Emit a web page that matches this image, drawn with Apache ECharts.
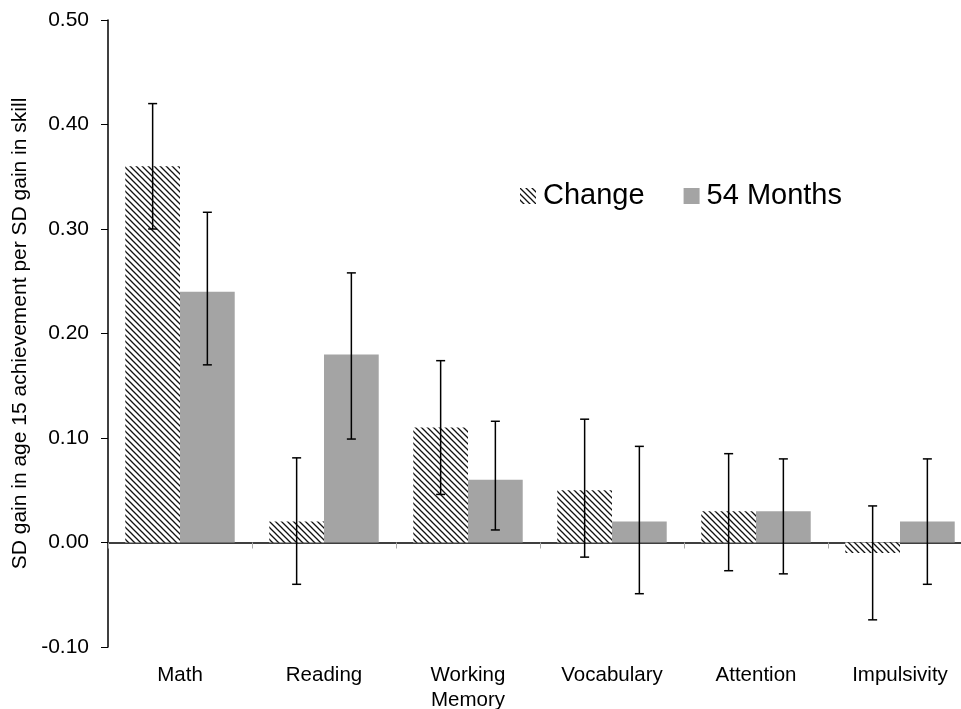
<!DOCTYPE html>
<html>
<head>
<meta charset="utf-8">
<script src="https://cdn.jsdelivr.net/npm/echarts@6/dist/echarts.min.js"></script>
<style>
  html, body { margin: 0; padding: 0; background: #fff; }
  #chart { width: 961px; height: 709px; }
</style>
</head>
<body>
<div id="chart"></div>
<script>
  // categories and values
  const categories = ['Math', 'Reading', 'Working\nMemory', 'Vocabulary', 'Attention', 'Impulsivity'];
  const changeValues = [0.36, 0.02, 0.11, 0.05, 0.03, -0.01];
  const changeLow = [0.30, -0.04, 0.046, -0.014, -0.027, -0.074];
  const changeHigh = [0.42, 0.081, 0.174, 0.118, 0.085, 0.035];
  const monthsValues = [0.24, 0.18, 0.06, 0.02, 0.03, 0.02];
  const monthsLow = [0.17, 0.099, 0.012, -0.049, -0.030, -0.040];
  const monthsHigh = [0.316, 0.258, 0.116, 0.092, 0.080, 0.080];

  const font = 'Arial, "Liberation Sans", sans-serif';
  const catGap = 0.24;

  // diagonal hatch tile
  function hatch() {
    const s = 6;
    const c = document.createElement('canvas');
    c.width = s; c.height = s;
    const ctx = c.getContext('2d');
    ctx.fillStyle = '#fff';
    ctx.fillRect(0, 0, s, s);
    ctx.strokeStyle = '#111';
    ctx.lineWidth = 1.3;
    ctx.beginPath();
    ctx.moveTo(-1, -1); ctx.lineTo(s + 1, s + 1);
    ctx.moveTo(-1, s - 1); ctx.lineTo(1, s + 1);
    ctx.moveTo(s - 1, -1); ctx.lineTo(s + 1, 1);
    ctx.stroke();
    return c;
  }

  function errorSeries(low, high, side) {
    return {
      type: 'custom',
      xAxisIndex: 0,
      silent: true,
      z: 5,
      data: low.map((l, i) => [i, l, high[i]]),
      renderItem: function (params, api) {
        const band = api.size([1, 0])[0];
        const off = side * band * (1 - catGap) / 4;
        const p1 = api.coord([api.value(0), api.value(1)]);
        const p2 = api.coord([api.value(0), api.value(2)]);
        const x = p1[0] + off;
        const cap = 4.5;
        const style = { stroke: '#000', lineWidth: 1.5 };
        return {
          type: 'group',
          children: [
            { type: 'line', shape: { x1: x, y1: p1[1], x2: x, y2: p2[1] }, style: style },
            { type: 'line', shape: { x1: x - cap, y1: p1[1], x2: x + cap, y2: p1[1] }, style: style },
            { type: 'line', shape: { x1: x - cap, y1: p2[1], x2: x + cap, y2: p2[1] }, style: style }
          ]
        };
      }
    };
  }

  const myChart = echarts.init(document.getElementById('chart'));
  myChart.setOption({
    animation: false,
    backgroundColor: '#fff',
    textStyle: { fontFamily: font, color: '#000' },
    grid: { left: 108, top: 20, width: 864, height: 627, outerBoundsMode: 'none' },
    legend: {
      left: 515,
      top: 175,
      icon: 'rect',
      itemWidth: 16,
      itemHeight: 16,
      itemGap: 39,
      data: ['Change', '54 Months'],
      textStyle: { fontSize: 29, fontFamily: font, color: '#000', lineHeight: 32, padding: [0, 0, 0, 2] }
    },
    xAxis: [
      {
        type: 'category',
        data: categories,
        position: 'bottom',
        axisLine: { show: false, onZero: false },
        axisTick: { show: false },
        axisLabel: { fontSize: 20.5, color: '#000', fontFamily: font, margin: 16, lineHeight: 25, interval: 0 }
      },
      {
        type: 'category',
        data: categories,
        position: 'bottom',
        axisLine: { show: true, onZero: true, lineStyle: { color: '#000', width: 1.5 } },
        axisTick: { show: true, length: 6, lineStyle: { color: '#aaa', width: 1 } },
        axisLabel: { show: false }
      }
    ],
    yAxis: {
      type: 'value',
      min: -0.1,
      max: 0.5,
      interval: 0.1,
      name: 'SD gain in age 15 achievement per SD gain in skill',
      nameLocation: 'middle',
      nameRotate: 90,
      nameGap: 76,
      nameTextStyle: { fontSize: 21, color: '#000', fontFamily: font },
      splitLine: { show: false },
      axisLine: { show: true, onZero: false, lineStyle: { color: '#000', width: 1.5 } },
      axisTick: { show: true, length: 7, lineStyle: { color: '#000' } },
      axisLabel: {
        fontSize: 21, color: '#000', fontFamily: font, margin: 19,
        formatter: v => v.toFixed(2)
      }
    },
    series: [
      {
        name: 'Change',
        type: 'bar',
        xAxisIndex: 0,
        data: changeValues,
        barGap: '0%',
        barCategoryGap: (catGap * 100) + '%',
        itemStyle: { color: { image: hatch(), repeat: 'repeat' } }
      },
      {
        name: '54 Months',
        type: 'bar',
        xAxisIndex: 0,
        data: monthsValues,
        barGap: '0%',
        barCategoryGap: (catGap * 100) + '%',
        itemStyle: { color: '#a4a4a4' }
      },
      errorSeries(changeLow, changeHigh, -1),
      errorSeries(monthsLow, monthsHigh, 1)
    ]
  });
</script>
</body>
</html>
